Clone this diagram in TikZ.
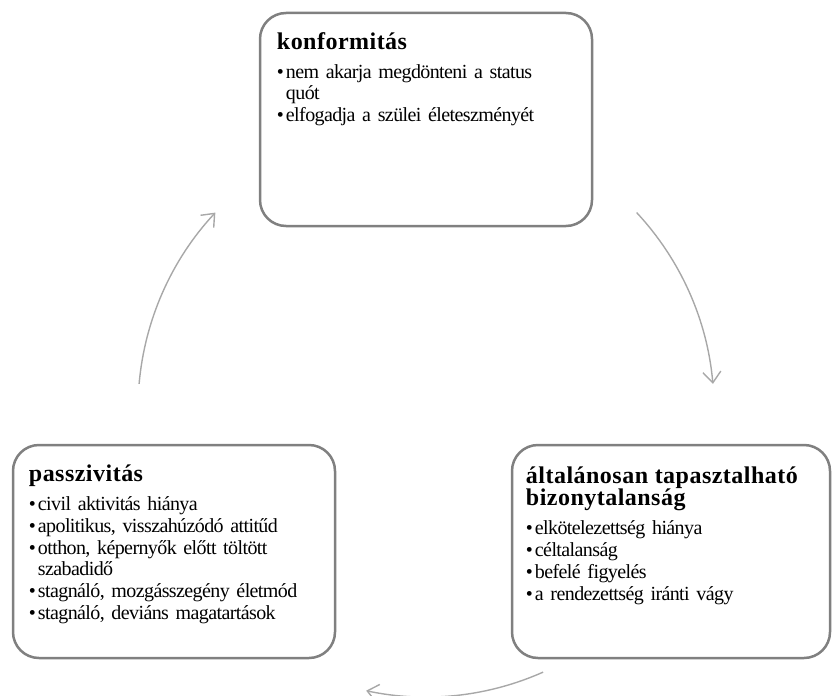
\documentclass[tikz,border=0pt]{standalone}
\usepackage{fontspec}
\setmainfont{Liberation Serif}[LetterSpace=-3]
\newfontfamily\fejbetu[LetterSpace=2]{Liberation Serif}
\usetikzlibrary{arrows.meta, positioning}
\definecolor{keret}{RGB}{128,128,128}
\definecolor{nyilszin}{RGB}{168,168,168}
\newcommand{\fej}[1]{{\noindent\fejbetu\bfseries\fontsize{24}{22}\selectfont #1\par}\vspace{7pt}}
\newcommand{\pont}[1]{\par\hangindent=9pt\hangafter=1\noindent\makebox[9pt][l]{\textbullet}#1}

\begin{document}
\begin{tikzpicture}[x=1pt,y=-1pt,
	doboz/.style={draw=keret,line width=2.5pt,rounded corners=26pt,minimum height=213pt},
	szoveg/.style={anchor=north west,inner sep=0pt,text width=315pt,align=left,font=\fontsize{20}{21}\selectfont\setlength{\parskip}{1pt}},
	nyil/.style={draw=nyilszin,line width=1.4pt,-{Straight Barb[length=11pt,width=18pt]}}]
	\useasboundingbox (0,0) rectangle (834,695);
	\node[doboz,minimum width=332pt] (konf) at (426,119.5) {};
	\node[doboz,minimum width=322pt] (passz) at (174,551.5) {};
	\node[doboz,minimum width=318pt] (bizony) at (671,551.5) {};
	\node[szoveg] (konft) at ([xshift=18pt,yshift=-21pt]konf.north west) {\fej{konformitás}
		\pont{nem akarja megdönteni a status\newline quót}
		\pont{elfogadja a szülei életeszményét}};
	\node[szoveg] (passzt) at ([xshift=17pt,yshift=-21pt]passz.north west) {\fej{passzivitás}
		\pont{civil aktivitás hiánya}
		\pont{apolitikus, visszahúzódó attitűd}
		\pont{otthon, képernyők előtt töltött\newline szabadidő}
		\pont{stagnáló, mozgásszegény életmód}
		\pont{stagnáló, deviáns magatartások}};
	\node[szoveg] (bizonyt) at ([xshift=15pt,yshift=-23pt]bizony.north west) {\fej{általánosan tapasztalható\\bizonytalanság}
		\pont{elkötelezettség hiánya}
		\pont{céltalanság}
		\pont{befelé figyelés}
		\pont{a rendezettség iránti vágy}};
	\coordinate (kozep) at (426,409);
	\draw[nyil] ([shift={(-43:288)}]kozep) arc[start angle=-43,end angle=-5,radius=288];
	\draw[nyil] ([shift={(66:288)}]kozep) arc[start angle=66,end angle=102,radius=288];
	\draw[nyil] ([shift={(185:288)}]kozep) arc[start angle=185,end angle=223,radius=288];
\end{tikzpicture}
\end{document}
